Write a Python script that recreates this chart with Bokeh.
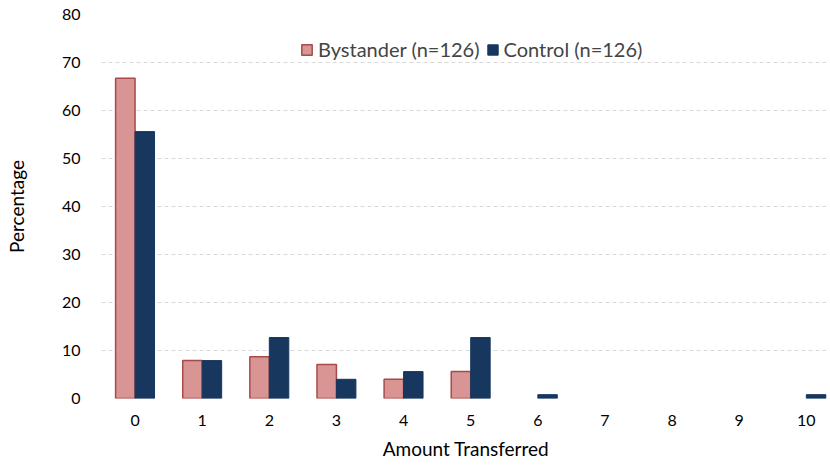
from bokeh.plotting import figure
from bokeh.models import ColumnDataSource, Legend, LegendItem, FixedTicker, Range1d
from bokeh.embed import file_html
from bokeh.resources import INLINE

amounts = [0, 1, 2, 3, 4, 5, 6, 7, 8, 9, 10]
bystander = [66.7, 7.9, 8.7, 7.1, 4.0, 5.6, 0, 0, 0, 0, 0]
control = [55.6, 7.9, 12.7, 4.0, 5.6, 12.7, 0.8, 0, 0, 0, 0.8]
y_ticks = [0, 10, 20, 30, 40, 50, 60, 70, 80]

FONT = "Lato"
W = 0.29

bsrc = ColumnDataSource(dict(
    x=[a - W / 2 for a, v in zip(amounts, bystander) if v > 0],
    top=[v for v in bystander if v > 0]))
csrc = ColumnDataSource(dict(
    x=[a + W / 2 for a, v in zip(amounts, control) if v > 0],
    top=[v for v in control if v > 0]))

p = figure(frame_width=729, frame_height=384, output_backend="svg", toolbar_location=None,
           x_range=Range1d(-0.5, 10.36), y_range=Range1d(0, 80),
           min_border_left=101, min_border_right=0, min_border_top=14, min_border_bottom=60)
p.outline_line_color = None

rb = p.vbar(x="x", top="top", width=W, source=bsrc, fill_color="#D99594",
            line_color="#A84A4A", line_width=1.5)
rc = p.vbar(x="x", top="top", width=W, source=csrc, fill_color="#17375E",
            line_color="#17375E", line_width=1)

p.xgrid.grid_line_color = None
p.ygrid.grid_line_color = "#D9D9D9"
p.ygrid.grid_line_dash = "4 3"
p.ygrid.ticker = FixedTicker(ticks=y_ticks)

p.yaxis.ticker = FixedTicker(ticks=y_ticks)
p.xaxis.ticker = FixedTicker(ticks=amounts)
for ax in (p.xaxis, p.yaxis):
    ax.axis_line_color = None
    ax.major_tick_line_color = None
    ax.minor_tick_line_color = None
    ax.major_label_text_font = FONT
    ax.major_label_text_font_size = "16px"
    ax.major_label_text_color = "#000000"
    ax.axis_label_text_font = FONT
    ax.axis_label_text_font_size = "19px"
    ax.axis_label_text_font_style = "normal"
    ax.axis_label_text_color = "#000000"
p.yaxis.major_label_standoff = 15
p.xaxis.major_label_standoff = 10
p.xaxis.axis_label = "Amount Transferred"
p.yaxis.axis_label = "Percentage"
p.yaxis.axis_label_standoff = 31
p.xaxis.axis_label_standoff = 8

legend = Legend(items=[LegendItem(label="Bystander (n=126)", renderers=[rb]),
                       LegendItem(label="Control (n=126)", renderers=[rc])],
                orientation="horizontal", location=(199, 337),
                label_text_font=FONT, label_text_font_size="20px",
                glyph_width=13, glyph_height=13, spacing=6, label_standoff=5,
                padding=0, margin=0,
                background_fill_alpha=0, border_line_color=None)
p.add_layout(legend, "center")

open("out.html", "w").write(file_html(p, INLINE))
